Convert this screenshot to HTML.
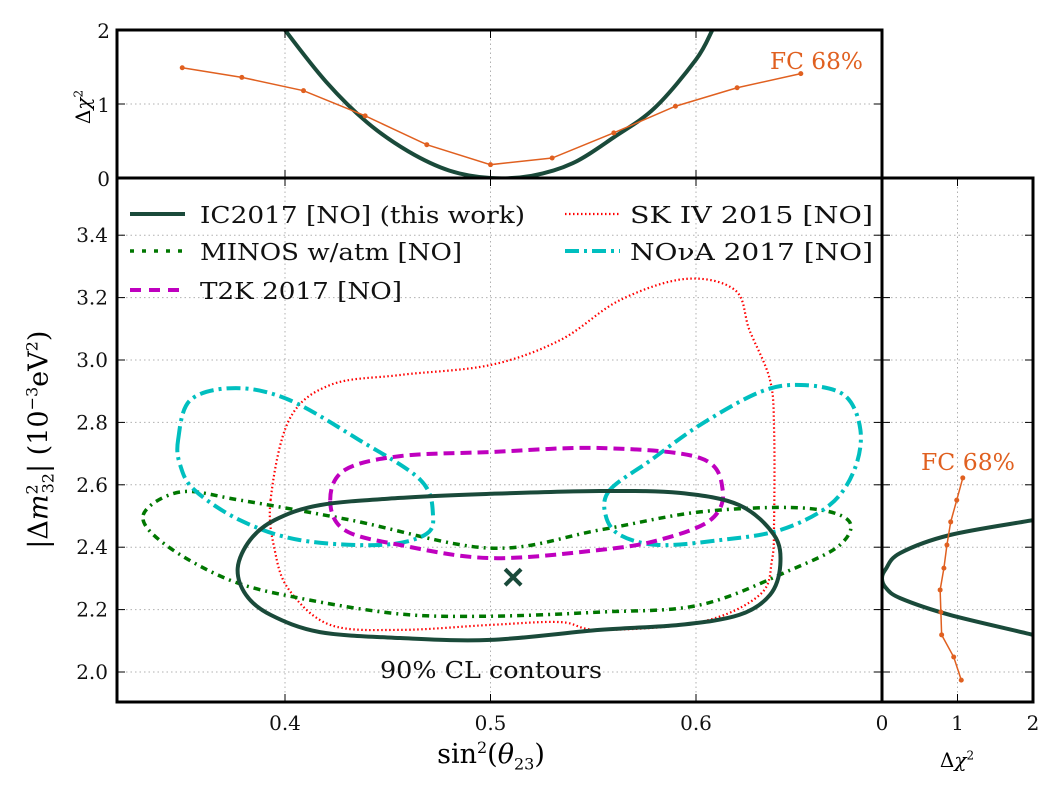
<!DOCTYPE html>
<html><head><meta charset="utf-8"><style>
body{margin:0;background:#fff;}
svg{display:block;}
.tk{font-family:"DejaVu Serif","Liberation Serif",serif;font-size:20px;fill:#111;}
.lg{font-family:"DejaVu Serif","Liberation Serif",serif;font-size:23px;fill:#111;}
</style></head><body>
<svg id="c" width="1054" height="794" viewBox="0 0 1054 794" xmlns="http://www.w3.org/2000/svg"></svg>
<script>
// ---- data ----
const icX=[0.377,0.383,0.395,0.417,0.456,0.500,0.553,0.592,0.621,0.638,0.641,0.636,0.621,0.592,0.553,0.500,0.456,0.417,0.393,0.381];
const icY=[2.333,2.423,2.487,2.535,2.558,2.571,2.580,2.574,2.535,2.439,2.343,2.247,2.183,2.151,2.135,2.103,2.109,2.128,2.183,2.247];
const minosX=[0.331,0.349,0.378,0.432,0.500,0.553,0.602,0.651,0.674,0.670,0.646,0.602,0.553,0.500,0.456,0.407,0.373,0.342];
const minosY=[2.503,2.577,2.551,2.487,2.397,2.455,2.513,2.526,2.487,2.407,2.327,2.215,2.192,2.179,2.186,2.237,2.295,2.407];
const t2kX=[0.422,0.429,0.456,0.500,0.553,0.602,0.613,0.607,0.582,0.553,0.500,0.456,0.429];
const t2kY=[2.551,2.647,2.692,2.705,2.718,2.686,2.583,2.487,2.423,2.391,2.365,2.407,2.455];
const skX=[0.393,0.402,0.422,0.456,0.500,0.534,0.563,0.595,0.619,0.626,0.636,0.638,0.638,0.637,0.631,0.602,0.553,0.534,0.500,0.456,0.422,0.402,0.395];
const skY=[2.551,2.808,2.920,2.952,2.984,3.064,3.192,3.260,3.224,3.096,2.936,2.776,2.487,2.359,2.247,2.160,2.135,2.160,2.151,2.135,2.151,2.263,2.391];
const novaLX=[0.348,0.354,0.376,0.402,0.436,0.466,0.472,0.468,0.446,0.407,0.378,0.356,0.349];
const novaLY=[2.744,2.872,2.910,2.872,2.744,2.615,2.503,2.439,2.407,2.423,2.487,2.583,2.663];
const novaRX=[0.558,0.578,0.602,0.631,0.651,0.672,0.680,0.677,0.665,0.641,0.612,0.582,0.563,0.556];
const novaRY=[2.583,2.679,2.792,2.897,2.920,2.888,2.776,2.647,2.535,2.455,2.423,2.407,2.439,2.503];
const bestX=[0.511], bestY=[2.304];
const topIcX=[0.398,0.40,0.42,0.44,0.46,0.48,0.50,0.52,0.54,0.56,0.58,0.60,0.608,0.61];
const topIcC=[2.1,2.0,1.3,0.75,0.36,0.1,0.0,0.03,0.2,0.55,0.95,1.6,2.0,2.1];
const topFcX=[0.350,0.379,0.409,0.439,0.469,0.500,0.530,0.560,0.590,0.620,0.651];
const topFcC=[1.49,1.36,1.18,0.84,0.45,0.18,0.27,0.61,0.97,1.22,1.41];
const rIcY=[2.10,2.119,2.183,2.237,2.27,2.30,2.33,2.381,2.439,2.487,2.50];
const rIcC=[2.2,2.0,0.9,0.24,0.05,0.0,0.05,0.24,0.9,2.0,2.2];
const rFcY=[2.622,2.551,2.481,2.407,2.333,2.263,2.192,2.119,2.048,1.974];
const rFcC=[1.07,0.99,0.91,0.86,0.82,0.77,0.78,0.79,0.95,1.05];
const xTicks=[0.4,0.5,0.6], yTicks=[2.0,2.2,2.4,2.6,2.8,3.0,3.2,3.4], cTicks=[0,1,2];

// ---- scales ----
const sx=v=>285+(v-0.4)*2055;
const sy=v=>672-(v-2.0)*312;
const tcy=v=>178-v*74;
const rcx=v=>882+v*75.5;
const NS='http://www.w3.org/2000/svg';
const svg=document.getElementById('c');
function el(t,a,p){const e=document.createElementNS(NS,t);for(const k in a)e.setAttribute(k,a[k]);(p||svg).appendChild(e);return e;}
function smooth(P,closed){
  const n=P.length;let d='M'+P[0][0].toFixed(1)+','+P[0][1].toFixed(1);
  const m=closed?n:n-1;
  for(let i=0;i<m;i++){
    const p0=P[closed?(i-1+n)%n:Math.max(i-1,0)],p1=P[i],p2=P[(i+1)%n],p3=P[closed?(i+2)%n:Math.min(i+2,n-1)];
    const c1=[p1[0]+(p2[0]-p0[0])/6,p1[1]+(p2[1]-p0[1])/6],c2=[p2[0]-(p3[0]-p1[0])/6,p2[1]-(p3[1]-p1[1])/6];
    d+='C'+c1[0].toFixed(1)+','+c1[1].toFixed(1)+' '+c2[0].toFixed(1)+','+c2[1].toFixed(1)+' '+p2[0].toFixed(1)+','+p2[1].toFixed(1);
  }
  return d+(closed?'Z':'');
}
function poly(xs,ys,fx,fy){return xs.map((x,i)=>[fx(x),fy(ys[i])]);}
const grid={stroke:'#b0b0b0','stroke-width':1,'stroke-dasharray':'1.5,3'};
const defs=el('defs',{});
const cp1=el('clipPath',{id:'cm'},defs);el('rect',{x:117,y:178,width:765,height:524},cp1);
const cp2=el('clipPath',{id:'ct'},defs);el('rect',{x:117,y:30,width:765,height:148},cp2);
const cp3=el('clipPath',{id:'cr'},defs);el('rect',{x:882,y:178,width:151,height:524},cp3);

// grids
xTicks.forEach(t=>{let g=el('line',Object.assign({x1:sx(t),x2:sx(t),y1:178,y2:702},grid));
  g=el('line',Object.assign({x1:sx(t),x2:sx(t),y1:30,y2:178},grid));});
yTicks.forEach(t=>{let g=el('line',Object.assign({x1:117,x2:882,y1:sy(t),y2:sy(t)},grid));
  g=el('line',Object.assign({x1:882,x2:1033,y1:sy(t),y2:sy(t)},grid));});
[1].forEach(t=>{let g=el('line',Object.assign({x1:117,x2:882,y1:tcy(t),y2:tcy(t)},grid));
  g=el('line',Object.assign({x1:rcx(t),x2:rcx(t),y1:178,y2:702},grid));});

// main contours
const gm=el('g',{'clip-path':'url(#cm)'});
function contour(xs,ys,st,name){const p=el('path',Object.assign({d:smooth(poly(xs,ys,sx,sy),true),fill:'none'},st),gm);
  }
contour(skX,skY,{stroke:'#ff0000','stroke-width':2.2,'stroke-dasharray':'1.5,2.5'},'sk-contour');
contour(minosX,minosY,{stroke:'#007700','stroke-width':3.5,'stroke-dasharray':'7,5,2,5'},'minos-contour');
contour(novaLX,novaLY,{stroke:'#00bfbf','stroke-width':4,'stroke-dasharray':'14,5,3,5'},'nova-contour-left');
contour(novaRX,novaRY,{stroke:'#00bfbf','stroke-width':4,'stroke-dasharray':'14,5,3,5'},'nova-contour-right');
contour(t2kX,t2kY,{stroke:'#bf00bf','stroke-width':4,'stroke-dasharray':'11,6'},'t2k-contour');
contour(icX,icY,{stroke:'#1a4a3a','stroke-width':4},'ic2017-contour');
bestX.forEach((b,i)=>{const x=sx(b),y=sy(bestY[i]);const p=el('path',{d:`M${x-8},${y-8}L${x+8},${y+8}M${x-8},${y+8}L${x+8},${y-8}`,stroke:'#1a4a3a','stroke-width':4},gm);
  });
let t=el('text',{x:380,y:678,class:'lg',textLength:222,lengthAdjust:'spacingAndGlyphs'});t.textContent='90% CL contours';


// top panel
const gt=el('g',{'clip-path':'url(#ct)'});
let p=el('path',{d:smooth(poly(topIcX,topIcC,sx,tcy),false),fill:'none',stroke:'#1a4a3a','stroke-width':4},gt);

p=el('polyline',{points:poly(topFcX,topFcC,sx,tcy).map(q=>q.join(',')).join(' '),fill:'none',stroke:'#e06020','stroke-width':1.5},gt);

topFcX.forEach((x,i)=>{const c=el('circle',{cx:sx(x),cy:tcy(topFcC[i]),r:2.5,fill:'#e06020'},gt);});
t=el('text',{x:770,y:69,class:'lg',style:'fill:#e06020',textLength:93,lengthAdjust:'spacingAndGlyphs'});t.textContent='FC 68%';

// right panel
const gr=el('g',{'clip-path':'url(#cr)'});
p=el('path',{d:smooth(poly(rIcC,rIcY,rcx,sy),false),fill:'none',stroke:'#1a4a3a','stroke-width':4},gr);

p=el('polyline',{points:poly(rFcC,rFcY,rcx,sy).map(q=>q.join(',')).join(' '),fill:'none',stroke:'#e06020','stroke-width':1.5},gr);

rFcC.forEach((c0,i)=>{const c=el('circle',{cx:rcx(c0),cy:sy(rFcY[i]),r:2.5,fill:'#e06020'},gr);});
t=el('text',{x:921,y:470,class:'lg',style:'fill:#e06020',textLength:94,lengthAdjust:'spacingAndGlyphs'});t.textContent='FC 68%';

// frames
[[117,178,765,524,'main-plot-frame'],[117,30,765,148,'top-plot-frame'],[882,178,151,524,'right-plot-frame']].forEach(r=>{
  const f=el('rect',{x:r[0],y:r[1],width:r[2],height:r[3],fill:'none',stroke:'#000','stroke-width':3});});

// ticks & labels
function tick(x1,y1,x2,y2){el('line',{x1,y1,x2,y2,stroke:'#000','stroke-width':1});}
xTicks.forEach(v=>{tick(sx(v),702,sx(v),694);tick(sx(v),178,sx(v),186);tick(sx(v),178,sx(v),170);tick(sx(v),30,sx(v),38);
  const l=el('text',{x:sx(v),y:730,'text-anchor':'middle',class:'tk'});l.textContent=v.toFixed(1);});
yTicks.forEach(v=>{tick(117,sy(v),125,sy(v));tick(882,sy(v),874,sy(v));tick(882,sy(v),890,sy(v));tick(1033,sy(v),1025,sy(v));
  const l=el('text',{x:108,y:sy(v)+7,'text-anchor':'end',class:'tk'});l.textContent=v.toFixed(1);});
cTicks.forEach(v=>{tick(117,tcy(v),125,tcy(v));tick(882,tcy(v),874,tcy(v));tick(rcx(v),702,rcx(v),694);tick(rcx(v),178,rcx(v),186);
  let l=el('text',{x:110,y:tcy(v)+8,'text-anchor':'end',class:'tk'});l.textContent=String(v);
  l=el('text',{x:rcx(v),y:730,'text-anchor':'middle',class:'tk'});l.textContent=String(v);});

// legend
const leg=[[130,214,200,325,'IC2017 [NO] (this work)',{stroke:'#1a4a3a','stroke-width':4}],
[130,251,200,262,'MINOS w/atm [NO]',{stroke:'#007700','stroke-width':3.5,'stroke-dasharray':'4,8'}],
[130,290,200,202,'T2K 2017 [NO]',{stroke:'#bf00bf','stroke-width':4,'stroke-dasharray':'11,8'}],
[565,214,630,243,'SK IV 2015 [NO]',{stroke:'#ff0000','stroke-width':2.2,'stroke-dasharray':'1.5,2.5'}],
[565,251,630,243,'NO\u03bdA 2017 [NO]',{stroke:'#00bfbf','stroke-width':4,'stroke-dasharray':'14,5,3,5'}]];
leg.forEach(e=>{const g=el('g',{});
  el('line',Object.assign({x1:e[0],x2:e[0]+55,y1:e[1],y2:e[1]},e[5]),g);
  const l=el('text',{x:e[2],y:e[1]+9,class:'lg',textLength:e[3],lengthAdjust:'spacingAndGlyphs'},g);l.textContent=e[4];});
</script>
<div style="position:absolute;left:0;top:0;width:1054px;height:794px;pointer-events:none;">
<div style="position:absolute;left:391px;top:738px;width:200px;text-align:center;font:27px 'DejaVu Serif','Liberation Serif',serif;">sin<sup style="font-size:16px">2</sup>(<i>θ</i><sub style="font-size:16px">23</sub>)</div>
<div style="position:absolute;left:-120px;top:422px;width:320px;text-align:center;transform:rotate(-90deg);font:27px 'DejaVu Serif','Liberation Serif',serif;">|Δ<i>m</i><sup style="font-size:16px">2</sup><sub style="font-size:16px;margin-left:-9px">32</sub>| (10<sup style="font-size:16px">−3</sup>eV<sup style="font-size:16px">2</sup>)</div>
<div style="position:absolute;left:48px;top:95px;width:70px;text-align:center;transform:rotate(-90deg);font:20px 'DejaVu Serif','Liberation Serif',serif;">Δ<i>χ</i><sup style="font-size:12px">2</sup></div>
<div style="position:absolute;left:922px;top:748px;width:70px;text-align:center;font:20px 'DejaVu Serif','Liberation Serif',serif;">Δ<i>χ</i><sup style="font-size:12px">2</sup></div>
</div>
</body></html>
